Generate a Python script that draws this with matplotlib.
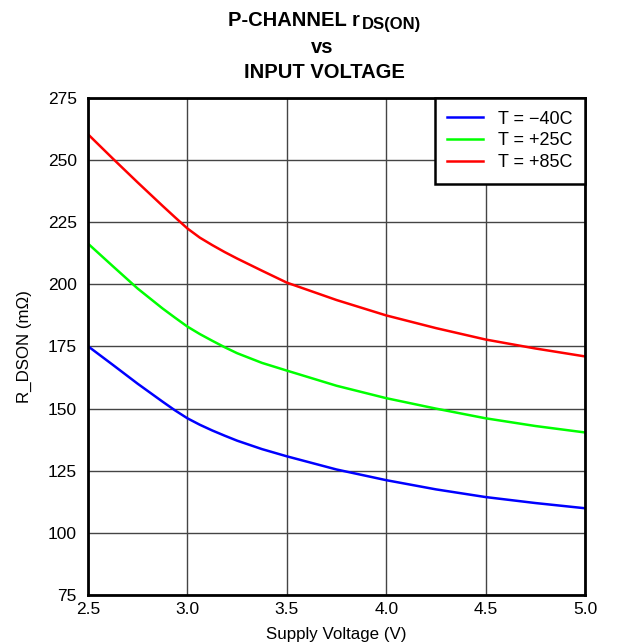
import matplotlib
matplotlib.use("Agg")
import matplotlib.pyplot as plt

# supply voltage (V)
voltage = [2.5, 2.625, 2.75, 2.875, 2.9375, 3.0, 3.0625, 3.125, 3.1875, 3.25,
           3.375, 3.5, 3.75, 4.0, 4.25, 4.5, 4.75, 5.0]

# R_DSON (mOhm)
rdson_m40 = [175.1, 167.6, 160.0, 152.8, 149.3, 146.1, 143.5, 141.2, 139.1, 137.1,
             133.7, 130.8, 125.5, 121.2, 117.5, 114.4, 112.0, 109.9]
rdson_p25 = [216.4, 207.3, 198.3, 190.3, 186.6, 183.0, 180.0, 177.3, 174.7, 172.3,
             168.4, 165.3, 159.2, 154.2, 150.0, 146.1, 143.0, 140.4]
rdson_p85 = [260.4, 250.6, 241.0, 231.6, 227.0, 222.5, 218.8, 215.8, 213.0, 210.4,
             205.5, 200.7, 193.7, 187.5, 182.4, 177.8, 174.2, 171.0]

series_labels = ["T = \u221240C", "T = +25C", "T = +85C"]
series_colors = ["#0000ff", "#00ff00", "#ff0000"]

x_ticks = [2.5, 3.0, 3.5, 4.0, 4.5, 5.0]
y_ticks = [75, 100, 125, 150, 175, 200, 225, 250, 275]

plt.rcParams['font.family'] = ['Liberation Sans', 'DejaVu Sans']

W, H = 618, 643
fig = plt.figure(figsize=(W / 100, H / 100), dpi=100)
ax = fig.add_axes([0.1424, 0.0747, 0.8042, 0.7729])

for ys, lab, col in zip([rdson_m40, rdson_p25, rdson_p85], series_labels, series_colors):
    ax.plot(voltage, ys, color=col, lw=1.8, label=lab, zorder=3)

ax.set_xlim(2.5, 5.0)
ax.set_ylim(75, 275)
ax.set_xticks(x_ticks)
ax.set_xticklabels([f"{v:.1f}" for v in x_ticks])
ax.set_yticks(y_ticks)
ax.grid(True, color='#444444', lw=1.0)
ax.tick_params(length=0, labelsize=12.5)
ax.tick_params(axis='x', pad=5)
ax.tick_params(axis='y', pad=8)
for s in ax.spines.values():
    s.set_linewidth(2.0)
    s.set_color('black')
    s.set_zorder(4)

ax.set_xlabel("Supply Voltage (V)", fontsize=12.2, labelpad=7)
ax.set_ylabel("R_DSON (m\u03a9)", fontsize=12.2, labelpad=11)

leg = ax.legend(loc='upper right', fontsize=13, fancybox=False,
                borderaxespad=0, framealpha=1, edgecolor='black',
                handlelength=1.95, handletextpad=0.85, borderpad=0.7,
                labelspacing=0.26)
leg.get_frame().set_linewidth(1.8)

# title, built from pieces so the subscript can be sized on its own
fig.text(360 / W, 1 - 26 / H, "P-CHANNEL r", ha='right', va='baseline',
         fontsize=14.5, fontweight='bold')
fig.text(362 / W, 1 - 29.5 / H, "DS(ON)", ha='left', va='baseline',
         fontsize=12, fontweight='bold')
fig.text(322 / W, 1 - 53 / H, "vs", ha='center', va='baseline', fontsize=14.5,
         fontweight='bold')
fig.text(324 / W, 1 - 78 / H, "INPUT VOLTAGE", ha='center', va='baseline',
         fontsize=14.5, fontweight='bold')

fig.savefig("out.png", dpi=100)
